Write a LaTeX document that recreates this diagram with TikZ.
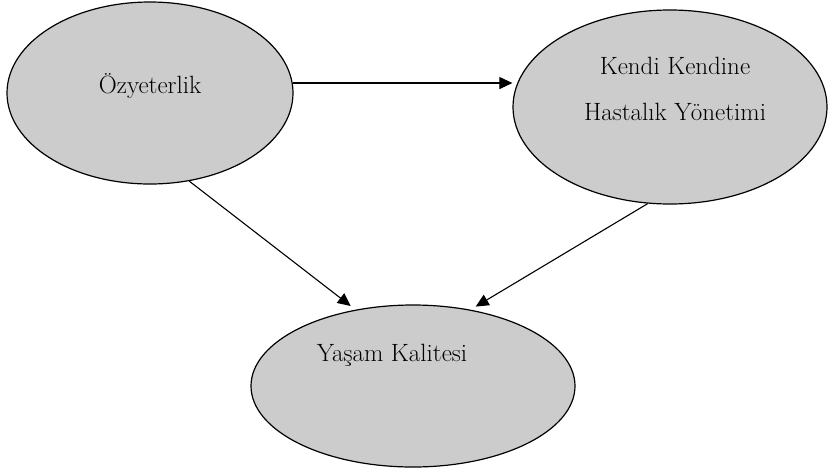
\documentclass[tikz,border=0pt]{standalone}
\usepackage{tikz}
\usetikzlibrary{shapes.geometric,arrows.meta}

\tikzset{
    blob/.style={ellipse, draw, line width=1.2pt, fill=gray!40, inner sep=0pt},
    txt/.style={font=\fontsize{25}{30}\selectfont, align=center},
    link/.style={line width=1.1pt, -{Triangle[length=13pt,width=12pt]}}
}

\begin{document}
\begin{tikzpicture}[x=1pt,y=-1pt]
    \useasboundingbox (0,0) rectangle (829,472);
    \node[blob, minimum width=286pt, minimum height=182pt,
        label={[txt,yshift=7pt]center:Özyeterlik}] (oz) at (150,93) {};
    \node[blob, minimum width=314pt, minimum height=194pt,
        label={[txt,xshift=5pt,yshift=18pt]center:{Kendi Kendine\\[16pt]Hastalık Yönetimi}}] (kh) at (670,107) {};
    \node[blob, minimum width=324pt, minimum height=162pt,
        label={[txt,xshift=-21pt,yshift=31pt]center:Yaşam Kalitesi}] (yk) at (413,386) {};
    \draw[link] (oz.4) -- (oz.4 -| kh.west);
    \draw[link, shorten >=6pt] (oz.-66) -- (yk.127);
    \draw[link, shorten >=6pt] (kh.-103) -- (yk.53);
\end{tikzpicture}
\end{document}
